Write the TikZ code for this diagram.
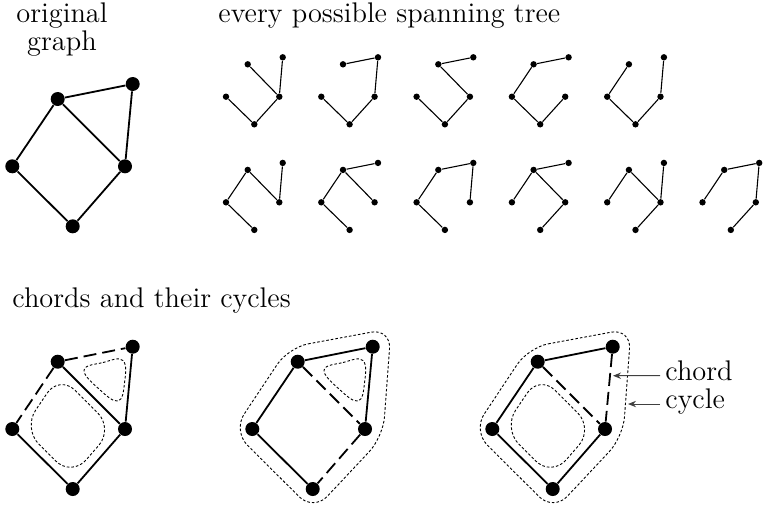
\documentclass[tikz,border=0pt]{standalone}
\usetikzlibrary{calc,arrows.meta}
\tikzset{
  bigdot/.style={circle, fill=black, inner sep=0pt, minimum size=7pt},
  smalldot/.style={circle, fill=black, inner sep=0pt, minimum size=3.2pt},
  edgeline/.style={line width=0.9pt},
  chordline/.style={line width=0.9pt, dash pattern=on 6.5pt off 3pt},
  sedge/.style={line width=0.55pt},
  cyc/.style={line width=0.45pt, dash pattern=on 1.3pt off 1pt},
  lbl/.style={inner sep=0pt, font=\fontsize{14.2}{11.5}\selectfont},
  arr/.style={line width=0.5pt, draw=black!75, -{Stealth[length=4pt,width=3.2pt]}},
}
\newcommand\mkbig[1]{%
  \node[bigdot] (#1A) at (57.7,361.7) {};
  \node[bigdot] (#1B) at (132.7,346.7) {};
  \node[bigdot] (#1C) at (12.3,429) {};
  \node[bigdot] (#1D) at (125,429) {};
  \node[bigdot] (#1E) at (72.7,489) {};
}
\newcommand\tricyc{\draw[cyc] plot[smooth cycle, tension=0.7] coordinates {(84,370) (103,362.5) (123,360.5) (124.5,383) (118,401) (99,389)};}
\newcommand\sqcyc{\draw[cyc, rounded corners=11pt] (59.5,374.8) -- (113.4,428.6) -- (71.5,476.6) -- (23.2,428.6) -- cycle;}
\newcommand\outcyc{\draw[cyc, rounded corners=10pt] (48.5,347.5) -- (151,328.5) -- (143,437) -- (73.5,511) -- (-7,430.8) -- cycle;}
\begin{document}
\begin{tikzpicture}[x=0.5pt, y=-0.5pt]
\path[use as bounding box] (0,0) rectangle (763,505);

% titles
\node[lbl, align=center, anchor=center] (t1) at (62,29.5) {original\\graph};
\node[lbl, anchor=base west] (t3) at (218,22) {every possible spanning tree};
\node[lbl, anchor=base west] (t4) at (12,307) {chords and their cycles};

% original graph
\begin{scope}[shift={(0,-262.7)}]
  \mkbig{o}
  \draw[edgeline] (oA) -- (oB);
  \draw[edgeline] (oA) -- (oC);
  \draw[edgeline] (oA) -- (oD);
  \draw[edgeline] (oB) -- (oD);
  \draw[edgeline] (oC) -- (oE);
  \draw[edgeline] (oD) -- (oE);
\end{scope}

% spanning trees
\foreach \k/\x/\y/\E in {
  1/226/96.7/{a/d,b/d,c/e,d/e},
  2/321.3/96.7/{a/b,b/d,c/e,d/e},
  3/416.6/96.7/{a/b,a/d,c/e,d/e},
  4/511.9/96.7/{a/b,a/c,c/e,d/e},
  5/607.2/96.7/{a/c,c/e,d/e,b/d},
  6/226/202.3/{a/c,a/d,b/d,c/e},
  7/321.3/202.3/{a/b,a/c,a/d,c/e},
  8/416.6/202.3/{a/b,a/c,b/d,c/e},
  9/511.9/202.3/{a/b,a/c,a/d,d/e},
  10/607.2/202.3/{a/c,a/d,b/d,d/e},
  11/702.5/202.3/{a/b,a/c,b/d,d/e}}
{
  \begin{scope}[shift={(\x,\y)}]
    \node[smalldot] (t\k-a) at (21.7,-32.4) {};
    \node[smalldot] (t\k-b) at (56.7,-39.4) {};
    \node[smalldot] (t\k-c) at (0,0) {};
    \node[smalldot] (t\k-d) at (53.3,0) {};
    \node[smalldot] (t\k-e) at (28.3,27.6) {};
    \foreach \u/\v in \E {\draw[sedge] (t\k-\u) -- (t\k-\v);}
  \end{scope}
}

% chords graph 1
\begin{scope}
  \mkbig{p}
  \draw[edgeline] (pA) -- (pD);
  \draw[edgeline] (pB) -- (pD);
  \draw[edgeline] (pC) -- (pE);
  \draw[edgeline] (pD) -- (pE);
  \draw[chordline] (pA) -- (pB);
  \draw[chordline] (pA) -- (pC);
  \tricyc
  \sqcyc
\end{scope}

% chords graph 2
\begin{scope}[shift={(240,0)}]
  \mkbig{q}
  \draw[edgeline] (qA) -- (qB);
  \draw[edgeline] (qA) -- (qC);
  \draw[edgeline] (qB) -- (qD);
  \draw[edgeline] (qC) -- (qE);
  \draw[chordline] (qA) -- (qD);
  \draw[chordline] (qD) -- (qE);
  \tricyc
  \outcyc
\end{scope}

% chords graph 3
\begin{scope}[shift={(480,0)}]
  \mkbig{r}
  \draw[edgeline] (rA) -- (rB);
  \draw[edgeline] (rA) -- (rC);
  \draw[edgeline] (rC) -- (rE);
  \draw[edgeline] (rD) -- (rE);
  \draw[chordline] (rA) -- (rD);
  \draw[chordline] (rB) -- (rD);
  \sqcyc
  \outcyc
\end{scope}

% labels
\node[lbl, anchor=base west] (chord) at (665,380) {chord};
\node[lbl, anchor=base west] (cycle) at (665,408) {cycle};
\coordinate (ctip) at (613,375.7);
\coordinate (ytip) at (628,404);
\draw[arr] ($(chord.base west)+(-5,-4.3)$) -- (ctip);
\draw[arr] ($(cycle.base west)+(-5,-4)$) -- (ytip);
\end{tikzpicture}
\end{document}
